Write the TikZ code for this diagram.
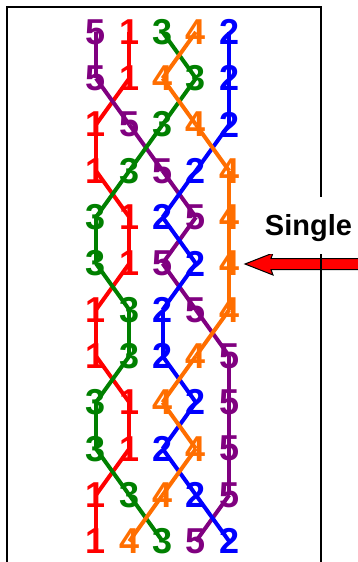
\documentclass[tikz,border=0pt]{standalone}
\usepackage{fontspec}
\setmainfont{Liberation Sans}
\usepackage{xcolor}
\usepackage{tikz}
\colorlet{bell1}{red}
\colorlet{bell2}{blue}
\definecolor{bell3}{RGB}{0,128,0}
\definecolor{bell4}{RGB}{255,110,0}
\definecolor{bell5}{RGB}{128,0,128}
\newcommand{\bellnum}[1]{\fontsize{36}{36}\selectfont\bfseries #1}
\newcommand{\calllabel}[1]{\fontsize{29}{29}\selectfont\bfseries #1}

\begin{document}
\begin{tikzpicture}[x=1pt,y=-1pt]
    \tikzstyle{every node}=[inner sep=0pt]
    \tikzstyle{rope}=[line width=4pt]
    \tikzstyle{frame}=[line width=2pt]
    \tikzstyle{callarrow}=[fill=red,draw=black,line width=1pt,line join=miter]
    \useasboundingbox (0,0) rectangle (357,562);
    \foreach \row/\order in {1/{5,1,3,4,2},2/{5,1,4,3,2},3/{1,5,3,4,2},
        4/{1,3,5,2,4},5/{3,1,2,5,4},6/{3,1,5,2,4},7/{1,3,2,5,4},
        8/{1,3,2,4,5},9/{3,1,4,2,5},10/{3,1,2,4,5},11/{1,3,4,2,5},
        12/{1,4,3,5,2}} {
      \foreach \b [count=\pos] in \order {
        \node[text=bell\b] (r\row-\b) at ({96+(\pos-1)*33.3},{32+(\row-1)*46.3}) {\bellnum{\b}};
      }
    }
    \foreach \b in {1,5,3,2,4} {
      \foreach \row in {1,...,11} {
        \pgfmathtruncatemacro{\nxt}{\row+1}
        \draw[rope,color=bell\b] (r\row-\b.center) -- (r\nxt-\b.center);
      }
    }
    \coordinate (tip) at (245,264);
    \draw[callarrow] (tip) -- ++(28,-11) -- ++(-2,5.5) -- ++(92,0) -- ++(0,11)
      -- ++(-92,0) -- ++(2,5.5) -- cycle;
    \draw[frame] (7,575) -- (7,7) -- (321,7) -- (321,575);
    \node[fill=white,anchor=base,inner xsep=3pt,inner ysep=17pt,
      text height=21pt,text depth=2pt] (single) at (308.5,235) {\calllabel{Single}};
\end{tikzpicture}
\end{document}
